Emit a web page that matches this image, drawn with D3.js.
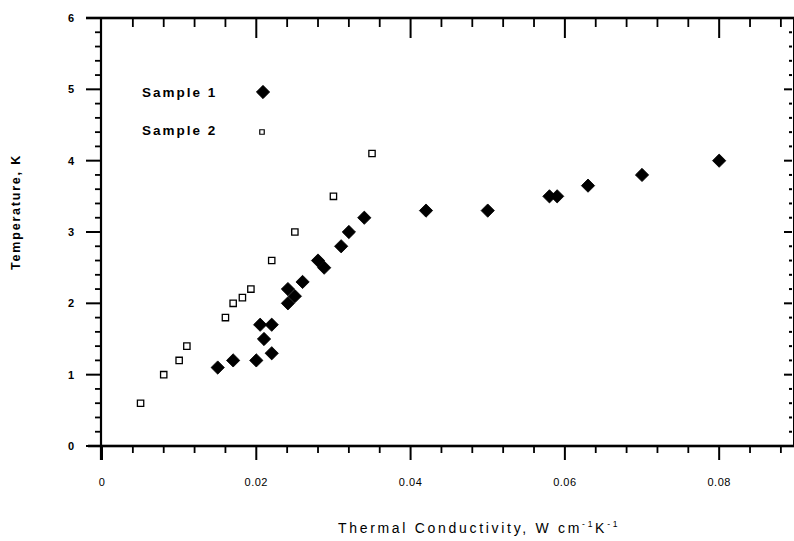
<!DOCTYPE html>
<html><head><meta charset="utf-8">
<script src="https://cdn.jsdelivr.net/npm/d3@7"></script>
<style>
html,body{margin:0;padding:0;background:#fff;}
svg{display:block;}
</style></head>
<body>
<svg id="chart" width="794" height="541"></svg>
<script>
// ---- data ----
const sample1X = [0.015, 0.017, 0.020, 0.022, 0.021, 0.0205, 0.022, 0.0241, 0.025, 0.0241, 0.026, 0.028, 0.0288, 0.031, 0.032, 0.034, 0.042, 0.050, 0.058, 0.059, 0.063, 0.070, 0.080];
const sample1Y = [1.1, 1.2, 1.2, 1.3, 1.5, 1.7, 1.7, 2.0, 2.1, 2.2, 2.3, 2.6, 2.5, 2.8, 3.0, 3.2, 3.3, 3.3, 3.5, 3.5, 3.65, 3.8, 4.0];
const sample2X = [0.005, 0.008, 0.010, 0.011, 0.016, 0.017, 0.0182, 0.0193, 0.022, 0.025, 0.030, 0.035];
const sample2Y = [0.6, 1.0, 1.2, 1.4, 1.8, 2.0, 2.08, 2.2, 2.6, 3.0, 3.5, 4.1];
const xMajorTicks = [0, 0.02, 0.04, 0.06, 0.08];
const xTickLabels = ["0", "0.02", "0.04", "0.06", "0.08"];
const xMinorTicks = [0.004, 0.008, 0.012, 0.016, 0.024, 0.028, 0.032, 0.036, 0.044, 0.048, 0.052, 0.056, 0.064, 0.068, 0.072, 0.076, 0.084, 0.088];
const yMajorTicks = [0, 1, 2, 3, 4, 5, 6];
const yTickLabels = ["0", "1", "2", "3", "4", "5", "6"];
const yMinorTicks = [0.2, 0.4, 0.6, 0.8, 1.2, 1.4, 1.6, 1.8, 2.2, 2.4, 2.6, 2.8, 3.2, 3.4, 3.6, 3.8, 4.2, 4.4, 4.6, 4.8, 5.2, 5.4, 5.6, 5.8];
const seriesNames = ["Sample 1", "Sample 2"];
const xTitle = "Thermal Conductivity, W cm";
const yTitle = "Temperature, K";

// ---- layout ----
const svg = d3.select("#chart");
const L = 101, R = 792, T = 18, B = 446;
const xScale = d3.scaleLinear().domain([0, 0.0897]).range([L + 1, 794]);
const yScale = d3.scaleLinear().domain([0, 6]).range([B, T]);

// ticks as filled rects positioned by the scales
function xTickRects(vals, y0, len, w) {
  svg.append("g").selectAll("rect").data(vals).join("rect")
    .attr("x", d => xScale(d) - w / 2).attr("width", w)
    .attr("y", len >= 0 ? y0 : y0 + len).attr("height", Math.abs(len))
    .attr("fill", "#000");
}
function yTickRects(vals, x0, len, w) {
  svg.append("g").selectAll("rect").data(vals).join("rect")
    .attr("y", d => yScale(d) - w / 2).attr("height", w)
    .attr("x", len >= 0 ? x0 : x0 + len).attr("width", Math.abs(len))
    .attr("fill", "#000");
}
xTickRects(xMajorTicks, B, 14, 2);
xTickRects(xMinorTicks, B, 7, 1.8);
xTickRects(xMajorTicks.slice(1), T, 20, 2);
xTickRects(xMinorTicks, T, 9, 1.8);
yTickRects(yMajorTicks, L, -15, 2);
yTickRects(yMinorTicks, L, -6, 1.8);
yTickRects(yMajorTicks, R, -8, 2);
yTickRects(yMinorTicks, R, -3, 2);

// frame
const frame = svg.append("g").attr("fill", "#000");
frame.append("rect").attr("x", 86).attr("y", T - 1.3).attr("width", 794 - 86).attr("height", 2.6);
frame.append("rect").attr("x", 88).attr("y", B - 1.3).attr("width", 794 - 88).attr("height", 2.6);
frame.append("rect").attr("x", L - 1.1).attr("y", T).attr("width", 2.2).attr("height", B + 14 - T);
frame.append("rect").attr("x", 793).attr("y", T).attr("width", 1.5).attr("height", B - T);

// tick labels
svg.append("g").selectAll("text").data(xMajorTicks).join("text")
  .attr("x", d => xScale(d)).attr("y", 486)
  .attr("text-anchor", "middle")
  .attr("font-family", "Liberation Sans, Arial, sans-serif")
  .attr("font-size", 11).attr("letter-spacing", 0.5)
  .text((d, i) => xTickLabels[i]);
svg.append("g").selectAll("text").data(yMajorTicks).join("text")
  .attr("x", 71).attr("y", d => yScale(d) + 4)
  .attr("text-anchor", "middle")
  .attr("font-family", "Liberation Sans, Arial, sans-serif")
  .attr("font-weight", "bold")
  .attr("font-size", 11)
  .text((d, i) => yTickLabels[i]);

// axis titles
const xt = svg.append("text")
  .attr("x", 479).attr("y", 533)
  .attr("text-anchor", "middle")
  .attr("font-family", "Liberation Sans, Arial, sans-serif")
  .attr("font-size", 14).attr("letter-spacing", 2.7);
xt.append("tspan").text(xTitle);
xt.append("tspan").attr("font-size", 8.5).attr("dy", -6).text("-1");
xt.append("tspan").attr("dy", 6).text("K");
xt.append("tspan").attr("font-size", 8.5).attr("dy", -6).text("-1");

svg.append("text")
  .attr("transform", "translate(20,212) rotate(-90)")
  .attr("text-anchor", "middle")
  .attr("font-family", "Liberation Sans, Arial, sans-serif")
  .attr("font-weight", "bold")
  .attr("font-size", 12.5).attr("letter-spacing", 1.8)
  .text(yTitle);

// markers
const diamond = d3.symbol().type(d3.symbolSquare).size(88);
const square = d3.symbol().type(d3.symbolSquare).size(40);

svg.append("g").selectAll("path").data(sample1X.map((v, i) => [v, sample1Y[i]])).join("path")
  .attr("d", diamond)
  .attr("transform", d => `translate(${xScale(d[0])},${yScale(d[1])}) rotate(45)`)
  .attr("fill", "#000").attr("stroke", "#000").attr("stroke-width", 0.8).attr("stroke-linejoin", "round");

svg.append("g").selectAll("path").data(sample2X.map((v, i) => [v, sample2Y[i]])).join("path")
  .attr("d", square)
  .attr("transform", d => `translate(${xScale(d[0])},${yScale(d[1])})`)
  .attr("fill", "#fff").attr("stroke", "#000").attr("stroke-width", 1.3);

// legend
const legendY = [92, 130];
svg.append("g").selectAll("text").data(seriesNames).join("text")
  .attr("x", 142).attr("y", (d, i) => legendY[i] + 5)
  .attr("font-family", "Liberation Sans, Arial, sans-serif")
  .attr("font-weight", "bold")
  .attr("font-size", 13.5).attr("letter-spacing", 2)
  .text(d => d);
svg.append("path").attr("d", diamond)
  .attr("transform", `translate(263,${legendY[0]}) rotate(45)`)
  .attr("fill", "#000").attr("stroke", "#000").attr("stroke-width", 0.8);
svg.append("path").attr("d", d3.symbol().type(d3.symbolSquare).size(20))
  .attr("transform", `translate(262,${legendY[1] + 2})`)
  .attr("fill", "#fff").attr("stroke", "#000").attr("stroke-width", 1.2);
</script>
</body></html>
